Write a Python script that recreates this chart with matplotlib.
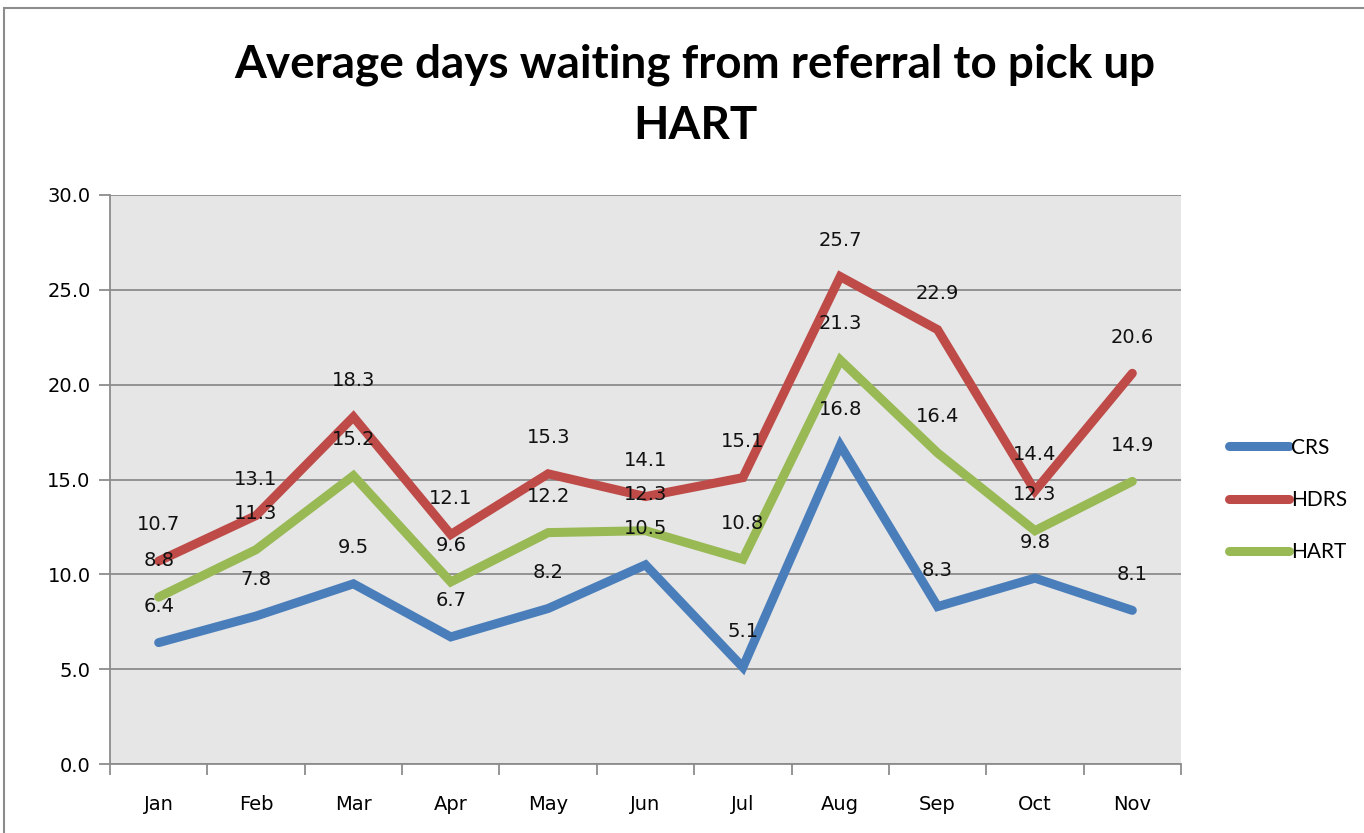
import numpy as np
import matplotlib.pyplot as plt
from matplotlib.patches import Rectangle

# data
months = ['Jan', 'Feb', 'Mar', 'Apr', 'May', 'Jun', 'Jul', 'Aug', 'Sep', 'Oct', 'Nov']
crs = [6.4, 7.8, 9.5, 6.7, 8.2, 10.5, 5.1, 16.8, 8.3, 9.8, 8.1]
hdrs = [10.7, 13.1, 18.3, 12.1, 15.3, 14.1, 15.1, 25.7, 22.9, 14.4, 20.6]
hart = [8.8, 11.3, 15.2, 9.6, 12.2, 12.3, 10.8, 21.3, 16.4, 12.3, 14.9]

series = [('CRS', crs, '#4A7EBB'), ('HDRS', hdrs, '#BE4B48'), ('HART', hart, '#98B954')]

fig = plt.figure(figsize=(13.64, 8.33), dpi=100)
ax = fig.add_axes([110/1364, 1 - 764/833, (1181 - 110)/1364, (764 - 195)/833])

# outer chart frame
fig.patches.append(Rectangle((4/1364, -0.01), 1.02, 1 - 8/833 + 0.01, transform=fig.transFigure,
                             fill=False, edgecolor='#8C8C8C', linewidth=1.5))

x = np.arange(len(months))
handles = []
for name, vals, col in series:
    h, = ax.plot(x, vals, color=col, linewidth=6.5, solid_capstyle='round',
                 solid_joinstyle='miter', label=name, zorder=3)
    handles.append(h)
    for xi, v in zip(x, vals):
        ax.annotate(f'{v:.1f}', (xi, v), xytext=(0, 26), textcoords='offset points',
                    ha='center', va='center', fontsize=14, color='#111111', zorder=4)

ax.set_facecolor('#E6E6E6')
ax.set_xlim(-0.5, len(months) - 0.5)
ax.set_ylim(0, 30)
ax.set_yticks(np.arange(0, 31, 5))
ax.set_yticklabels([f'{t:.1f}' for t in np.arange(0, 31, 5)], fontsize=14)
ax.yaxis.grid(True, color='#8C8C8C', linewidth=1.3)
ax.set_axisbelow(True)

# category labels at centres, tick marks at category boundaries
ax.set_xticks(x)
ax.set_xticklabels(months, fontsize=14)
ax.tick_params(axis='x', which='major', length=0, pad=22)
ax.set_xticks(np.arange(-0.5, len(months)), minor=True)
ax.tick_params(axis='x', which='minor', length=8, width=1.3, color='#8C8C8C', direction='out')
ax.tick_params(axis='y', length=8, width=1.3, color='#8C8C8C', pad=6)

for s in ['top', 'right']:
    ax.spines[s].set_visible(False)
for s in ['left', 'bottom']:
    ax.spines[s].set_color('#8C8C8C')
    ax.spines[s].set_linewidth(1.3)

fig.text(695/1364, 1 - 95/833, 'Average days waiting from referral to pick up\nHART',
         ha='center', va='center', fontsize=33, fontweight='bold', family='Lato',
         linespacing=1.55)

fig.legend(handles=handles, loc='center left', bbox_to_anchor=(1210/1364, 1 - 500/833),
           frameon=False, handlelength=2.9, handletextpad=0.1,
           labelspacing=1.55, prop={'family': 'Lato', 'size': 15})

fig.savefig('out.png', dpi=100)
